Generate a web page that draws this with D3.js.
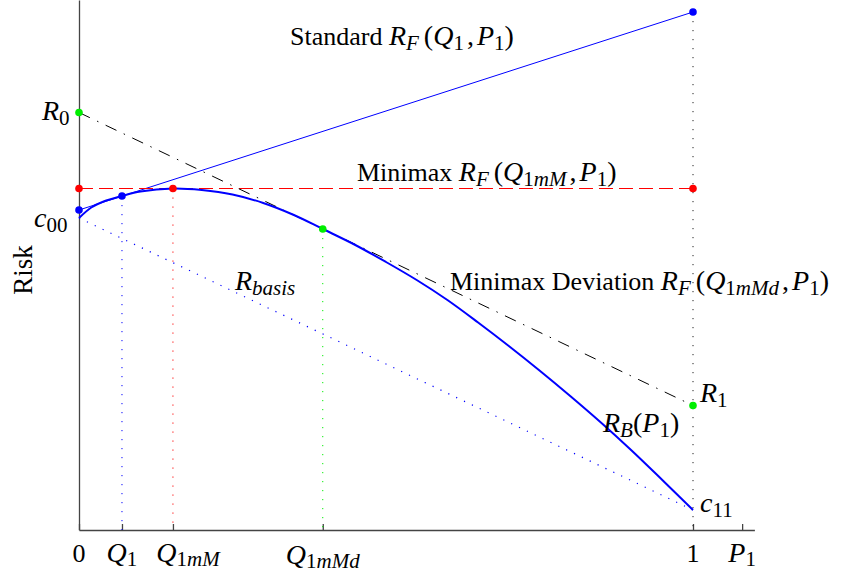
<!DOCTYPE html>
<html>
<head>
<meta charset="utf-8">
<script src="https://cdn.jsdelivr.net/npm/d3@7"></script>
<style>
  body { margin: 0; background: #fff; }
  text { font-family: "Liberation Serif", "Times New Roman", serif; white-space: pre; }
</style>
</head>
<body>
<svg id="chart"></svg>
<script>
var width = 841;
var height = 573;

// values (P1 on x, risk on y)
const p1Values = [0, 0.02, 0.04, 0.07, 0.1, 0.153, 0.2, 0.25, 0.3, 0.35, 0.397, 0.45, 0.5,
                  0.55, 0.6, 0.65, 0.7, 0.75, 0.8, 0.85, 0.9, 0.95, 1];
const bayesRisk = [0.624, 0.645, 0.657, 0.668, 0.677, 0.683, 0.680, 0.671, 0.654, 0.630, 0.602,
                   0.570, 0.536, 0.500, 0.460, 0.415, 0.368, 0.319, 0.268, 0.215, 0.159, 0.100, 0.040];
const basisEnds = [0.624, 0.04];          // c00 -> c11
const standardEnds = [0.64, 1.036];       // R_F(Q1,P1) at P1=0 and P1=1
const minimaxEnds = [0.683, 0.683];       // R_F(Q1mM,P1)
const deviationEnds = [0.835, 0.249];     // R0 -> R1
const q1 = 0.07, q1mM = 0.153, q1mMd = 0.397;
const q1Risk = 0.668, q1mMRisk = 0.683, q1mMdRisk = 0.602;
const extraTick = 1.08;

const svg = d3.select("#chart")
  .attr("width", width)
  .attr("height", height);

const x = d3.scaleLinear().domain([0, 1.1]).range([79, 79 + 614 * 1.1]);
const y = d3.scaleLinear().domain([0, 1.06]).range([530, 0]);

const blue = "#0000ff", red = "#ff0000", green = "#00ee00";

// axes
svg.append("g")
  .attr("transform", `translate(0, ${y(0)})`)
  .call(d3.axisBottom(x)
    .tickValues([0, q1, q1mM, q1mMd, 1, extraTick])
    .tickSize(-6)
    .tickSizeOuter(0)
    .tickFormat(""));
svg.append("g")
  .attr("transform", `translate(${x(0)}, 0)`)
  .call(d3.axisLeft(y).tickValues([]).tickSizeOuter(0));
svg.selectAll(".domain, .tick line").attr("stroke", "#444").attr("stroke-width", 1.3);

// dotted guides
const guide = (px, top, col) => svg.append("line")
  .attr("x1", x(px)).attr("x2", x(px))
  .attr("y1", y(top)).attr("y2", y(0))
  .attr("stroke", col).attr("stroke-width", 1)
  .attr("stroke-dasharray", "1.2,7.8");
guide(q1, q1Risk, blue);
guide(q1mM, q1mMRisk, red);
guide(q1mMd, q1mMdRisk, green);
guide(1, standardEnds[1], "#222");

const seg = (ends, col, w, dash) => svg.append("line")
  .attr("x1", x(0)).attr("y1", y(ends[0]))
  .attr("x2", x(1)).attr("y2", y(ends[1]))
  .attr("stroke", col).attr("stroke-width", w)
  .attr("stroke-dasharray", dash);

seg(basisEnds, blue, 1.2, "1.2,7.5");
seg(standardEnds, blue, 1, null);
seg(minimaxEnds, red, 1.2, "14,6");
seg(deviationEnds, "#000", 1, "12,8,1.5,8");

// Bayes risk curve
const line = d3.line()
  .x((d, i) => x(p1Values[i]))
  .y(d => y(d))
  .curve(d3.curveCatmullRom.alpha(0.5));
svg.append("path")
  .datum(bayesRisk)
  .attr("d", line)
  .attr("fill", "none")
  .attr("stroke", blue)
  .attr("stroke-width", 2);

// points
const points = [
  [0, standardEnds[0], blue], [q1, q1Risk, blue], [1, standardEnds[1], blue],
  [0, minimaxEnds[0], red], [q1mM, q1mMRisk, red], [1, minimaxEnds[1], red],
  [0, deviationEnds[0], green], [q1mMd, q1mMdRisk, green], [1, deviationEnds[1], green]
];
svg.selectAll(".pt")
  .data(points)
  .enter()
  .append("circle")
  .attr("class", "pt")
  .attr("cx", d => x(d[0]))
  .attr("cy", d => y(d[1]))
  .attr("r", 3.8)
  .attr("fill", d => d[2]);

// math-ish text: n normal text, m math upright, i italic, s subscript, si subscript italic
const sizes = { n: 26, m: 28, i: 28, s: 21, si: 21 };
function mathText(px, py, parts, anchor, subShift) {
  const t = svg.append("text")
    .attr("x", px).attr("y", py)
    .attr("text-anchor", anchor || "start")
    .style("font-size", "26px")
    .attr("fill", "#000");
  let shift = 0;
  parts.forEach(([s, k, gap]) => {
    const sub = k[0] === "s";
    const target = sub ? (subShift || 5) : 0;
    t.append("tspan")
      .attr("dy", target - shift)
      .attr("dx", gap || 0)
      .style("font-style", k.indexOf("i") >= 0 ? "italic" : "normal")
      .style("font-size", sizes[k] + "px")
      .text(s);
    shift = target;
  });
  return t;
}

const rf = [["R", "i"], ["F", "si"], ["(", "m", 5]];
const p1 = [[",", "m", 3], ["P", "i", 3], ["1", "s"], [")", "m"]];
mathText(290, 45, [["Standard ", "n"], ...rf, ["Q", "i"], ["1", "s"], ...p1]);
mathText(357, 181, [["Minimax ", "n"], ...rf, ["Q", "i"], ["1", "s"], ["mM", "si"], ...p1]);
mathText(450, 290, [["Minimax Deviation ", "n"], ...rf, ["Q", "i"], ["1", "s"], ["mMd", "si"], ...p1]);
mathText(235, 290, [["R", "i"], ["basis", "si"]]);
mathText(603, 432, [["R", "i"], ["B", "si"], ["(", "m"], ["P", "i"], ["1", "s"], [")", "m"]]);
mathText(x(1) + 7, y(deviationEnds[1]) - 4, [["R", "i"], ["1", "s"]]);
mathText(x(1) + 7, y(basisEnds[1]) + 2, [["c", "i"], ["11", "s"]]);
mathText(42, y(deviationEnds[0]) + 7, [["R", "i"], ["0", "s"]]);
mathText(34, y(basisEnds[0]) + 9, [["c", "i"], ["00", "s"]]);

// tick labels (Q1mM label nudged right so it clears Q1)
mathText(x(0), 562, [["0", "n"]], "middle");
mathText(x(q1), 562, [["Q", "i"], ["1", "s"]], "middle", 4);
mathText(x(q1mM) + 15, 562, [["Q", "i"], ["1", "s"], ["mM", "si"]], "middle", 4);
mathText(x(q1mMd), 564, [["Q", "i"], ["1", "s"], ["mMd", "si"]], "middle", 4);
mathText(x(1), 562, [["1", "n"]], "middle");
mathText(x(extraTick), 562, [["P", "i"], ["1", "s"]], "middle", 4);

svg.append("text")
  .attr("transform", "translate(32, 270) rotate(-90)")
  .attr("text-anchor", "middle")
  .style("font-size", "27px")
  .text("Risk");
</script>
</body>
</html>
